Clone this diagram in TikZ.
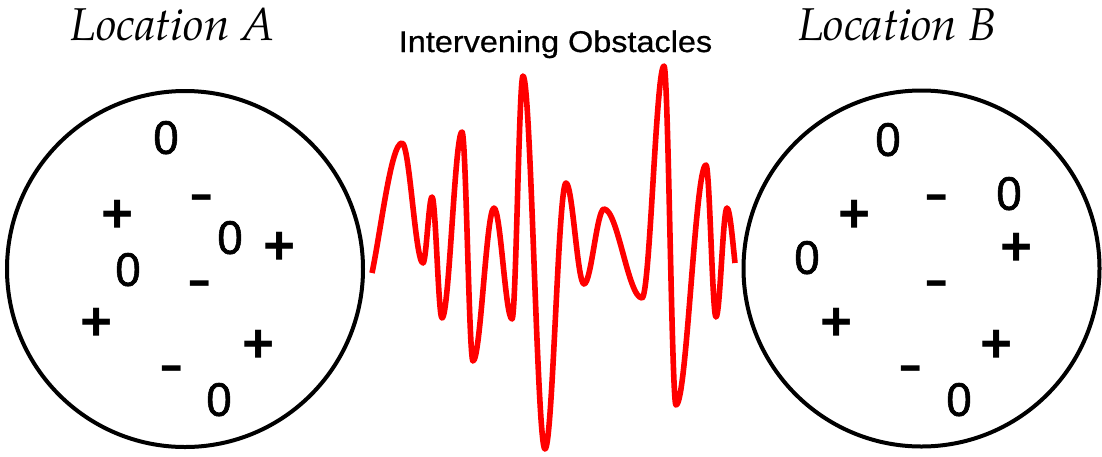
\documentclass[tikz,border=0pt]{standalone}
\usepackage{graphicx}
\usepackage{fontspec}
\setmainfont{Liberation Sans}
\newfontfamily\symfont{Liberation Sans}
\newfontfamily\zerofont{Liberation Sans}[FakeBold=1.3]
\newfontfamily\obstfont{Liberation Sans}[FakeBold=0.6]
\newfontfamily\pagfont{TeX Gyre Pagella}
\tikzset{
  ring/.style={draw=black, line width=4pt},
  wave/.style={draw=red, line width=5.6pt, line join=round},
  zerosym/.style={anchor=base, inner sep=0pt, font=\zerofont\fontsize{47}{47}\selectfont, yshift=-16.8pt},
  plussym/.style={anchor=base, inner sep=0pt, font=\symfont\bfseries\fontsize{55}{55}\selectfont, yshift=-19.3pt},
  minussym/.style={anchor=base, inner sep=0pt, font=\symfont\bfseries\fontsize{46}{46}\selectfont, yshift=-12.4pt},
  loclabel/.style={anchor=base, inner sep=0pt, font=\pagfont\itshape\fontsize{46}{46}\selectfont},
  obstlabel/.style={anchor=base, inner sep=0pt, font=\obstfont\fontsize{30}{30}\selectfont}
}
\newcommand\mns{\scalebox{1.6}[1]{-}}
\newcommand\zro{\scalebox{0.97}[1]{0}}
\begin{document}
\begin{tikzpicture}[x=1pt, y=-1pt]
\fill[white] (0,0) rectangle (1102,456);
\useasboundingbox (0,0) rectangle (1102,456);

% labels
\node[loclabel] (locA) at (172.5,40) {Location A};
\node[loclabel] (locB) at (897.5,40) {Location B};
\node[obstlabel] (obst) at (555.5,52) {\scalebox{1.08}[1]{Intervening Obstacles}};

% circles
\draw[ring] (185,269) circle[radius=178];
\draw[ring] (921.5,268.5) circle[radius=178];

% left symbols
\node[zerosym] (a1) at (166,137) {\zro};
\node[plussym] (a2) at (117.5,213.5) {+};
\node[minussym] (a3) at (201.5,197.5) {\mns};
\node[zerosym] (a4) at (230,237) {\zro};
\node[plussym] (a5) at (280,245) {+};
\node[zerosym] (a6) at (128,269) {\zro};
\node[minussym] (a7) at (200,283) {\mns};
\node[plussym] (a8) at (97,321) {+};
\node[plussym] (a9) at (259,343) {+};
\node[minussym] (a10) at (172,368) {\mns};
\node[zerosym] (a11) at (219,399) {\zro};

% right symbols
\node[zerosym] (b1) at (888,139) {\zro};
\node[plussym] (b2) at (855,213) {+};
\node[minussym] (b3) at (937,197) {\mns};
\node[zerosym] (b4) at (1009,193) {\zro};
\node[plussym] (b5) at (1017,246) {+};
\node[zerosym] (b6) at (807,257) {\zro};
\node[minussym] (b7) at (937,283) {\mns};
\node[plussym] (b8) at (837,321) {+};
\node[plussym] (b9) at (997,343) {+};
\node[minussym] (b10) at (911,368) {\mns};
\node[zerosym] (b11) at (959,399) {\zro};

% wave
\draw[wave] (372,273)
  .. controls (381,230) and (391,143) .. (402,143)
  .. controls (409.6,143) and (415.4,263) .. (423,263)
  .. controls (426.2,263) and (428.8,197) .. (432,197)
  .. controls (435.6,197) and (438.4,318) .. (442,318)
  .. controls (449.2,318) and (454.8,132) .. (462,132)
  .. controls (466,132) and (469,361) .. (473,361)
  .. controls (480.6,361) and (486.4,208) .. (494,208)
  .. controls (500.5,208) and (505.5,319) .. (512,319)
  .. controls (516,319) and (519,76) .. (523,76)
  .. controls (530.9,76) and (537.1,449) .. (545,449)
  .. controls (552.6,449) and (558.4,183) .. (566,183)
  .. controls (572.5,183) and (577.5,284) .. (584,284)
  .. controls (591.2,284) and (596.8,209) .. (604,209)
  .. controls (617.7,209) and (628.3,298) .. (642,298)
  .. controls (649.9,298) and (656.1,66) .. (664,66)
  .. controls (668.3,66) and (671.7,405) .. (676,405)
  .. controls (686.8,405) and (695.2,165) .. (706,165)
  .. controls (709.6,165) and (712.4,317) .. (716,317)
  .. controls (720,317) and (723,208) .. (727,208)
  .. controls (730,208) and (733,245) .. (735,263);
\end{tikzpicture}
\end{document}
